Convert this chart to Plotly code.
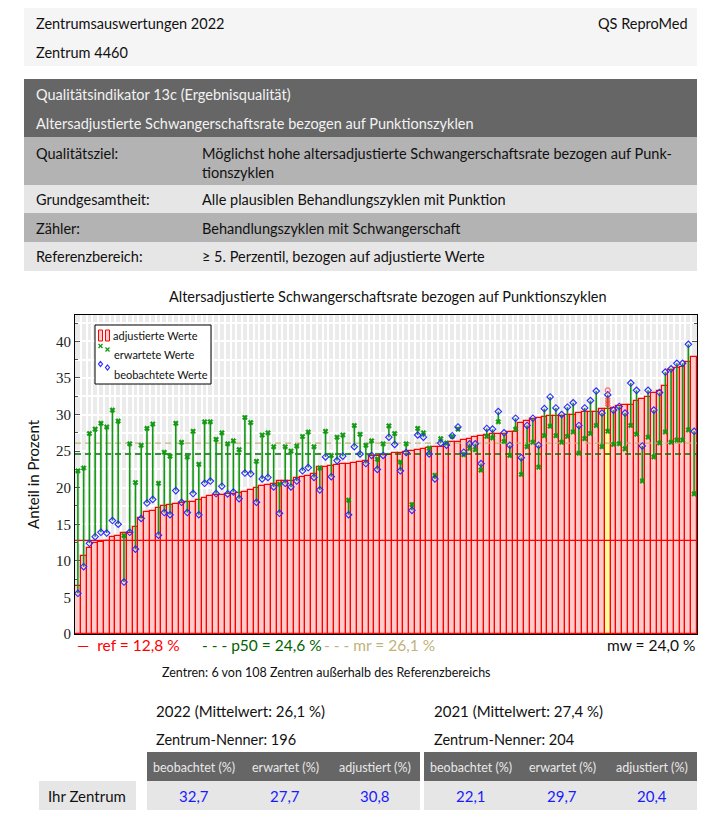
import plotly.graph_objects as go

# ---------------- data ----------------
adjustiert = [6.57, 10.67, 11.76, 12.4, 12.6, 12.75, 13.2, 13.45, 13.8, 13.86,
              14.6, 15.8, 16.7, 16.8, 17.2, 17.5, 17.6, 17.8, 17.9, 18.0,
              18.0, 18.3, 18.6, 18.9, 19.0, 19.0, 19.1, 19.2, 19.25, 19.4,
              19.7, 19.9, 20.25, 20.3, 20.5, 20.9, 20.9, 20.9, 21.3, 21.5,
              21.6, 21.9, 22.85, 22.85, 23.0, 23.1, 23.2, 23.2, 23.35, 23.5,
              23.6, 24.3, 24.35, 24.5, 24.5, 24.7, 24.8, 24.85, 25.0, 25.2,
              25.35, 25.4, 25.5, 25.5, 25.85, 26.2, 26.2, 26.45, 26.7, 26.9,
              27.0, 27.2, 27.3, 27.35, 27.35, 27.6, 27.6, 28.8, 29.1, 29.4,
              29.5, 29.6, 29.8, 29.8, 29.85, 29.9, 29.9, 30.2, 30.3, 30.3,
              30.3, 30.7, 30.8, 30.9, 31.2, 31.3, 31.3, 31.9, 32.1, 32.4,
              32.9, 33.15, 33.9, 36.1, 36.3, 36.5, 37.2, 37.85]
erwartet = [22.3, 22.7, 27.4, 28.0, 28.8, 28.3, 30.6, 29.1, 13.45, 26.0,
            20.7, 25.8, 28.1, 28.7, 20.6, 24.85, 24.3, 28.8, 26.2, 24.2,
            27.7, 23.2, 29.0, 29.0, 26.6, 27.5, 26.0, 26.4, 25.2, 29.6,
            28.9, 23.6, 27.2, 27.5, 25.6, 20.5, 25.6, 25.0, 25.7, 27.0,
            27.6, 25.6, 22.7, 27.7, 24.4, 26.9, 27.2, 18.3, 28.5, 27.3,
            25.8, 26.4, 23.9, 26.0, 28.45, 27.4, 23.5, 26.0, 17.7, 28.1,
            27.5, 25.4, 21.7, 26.7, 26.1, 27.0, 28.0, 24.5, 25.35, 25.2,
            22.4, 27.0, 26.8, 29.0, 26.3, 24.4, 28.0, 21.8, 25.6, 26.2,
            22.8, 27.1, 28.4, 27.1, 26.2, 27.0, 27.6, 24.7, 26.7, 27.4,
            28.5, 25.6, 27.7, 25.9, 26.0, 25.3, 28.5, 27.3, 20.9, 26.9,
            24.2, 26.1, 27.6, 26.2, 26.5, 26.5, 27.9, 19.15]
beobachtet = [5.56, 9.2, 12.4, 13.3, 13.9, 13.8, 15.5, 15.0, 7.1, 13.9,
              11.6, 15.8, 17.9, 18.4, 13.5, 16.6, 16.3, 19.6, 18.0, 16.6,
              19.2, 16.3, 20.6, 20.9, 19.2, 20.2, 19.15, 19.4, 18.5, 22.0,
              21.9, 18.0, 21.2, 21.4, 20.1, 16.5, 20.6, 20.1, 20.9, 22.3,
              22.75, 21.4, 19.7, 24.2, 21.5, 23.7, 24.3, 16.3, 25.6, 24.6,
              23.3, 24.4, 22.5, 24.4, 26.9, 25.9, 22.3, 24.8, 16.9, 27.2,
              26.9, 24.6, 21.2, 26.1, 25.8, 27.1, 28.3, 24.85, 26.0, 26.0,
              23.3, 28.1, 28.0, 30.4, 27.5, 25.8, 29.5, 24.1, 28.5, 29.5,
              25.8, 30.8, 32.4, 30.9, 30.0, 31.0, 31.6, 28.5, 30.9, 31.9,
              33.2, 30.2, 32.7, 30.6, 31.1, 30.2, 34.3, 33.3, 25.7, 33.3,
              30.6, 33.0, 35.8, 36.25, 37.0, 37.0, 39.6, 27.7]
eigenes_zentrum = 92           # position of "Ihr Zentrum" among the 108 centres
eigene_marken = [33.3, 32.0, 31.4]   # red markers drawn at own centre

ref_wert = 12.8
p50_wert = 24.6
mr_wert = 26.1
mw_wert = 24.0
n_zentren = 108
n_ausserhalb = 6

y_ticks = [0, 5, 10, 15, 20, 25, 30, 35, 40]

tab_kopf = ["beobachtet (%)", "erwartet (%)", "adjustiert (%)"]
werte_2022 = ["32,7", "27,7", "30,8"]
werte_2021 = ["22,1", "29,7", "20,4"]
mittel_2022 = "26,1"
mittel_2021 = "27,4"
nenner_2022 = 196
nenner_2021 = 204

# ---------------- geometry helpers (window pixel -> paper) ----------------
OFF = 8                      # default body margin of the page
W, H = 721 - OFF, 818 - OFF
L, R, T, B = 75, 697, 315, 634
def px(X):
    return (X - L) / (R - L)
def py(Y):
    return (B - Y) / (B - T)

FONT = "Lato"
def fmt(v):
    return f"{v:.1f}".replace(".", ",")

x = list(range(len(adjustiert)))
fill_colors = ["#ffff99" if i == eigenes_zentrum else "#ffcccc" for i in x]

fig = go.Figure()

fig.add_trace(go.Bar(
    x=x, y=adjustiert, width=1.0, name="adjustierte Werte",
    marker=dict(color=fill_colors, line=dict(color="#ff0000", width=1.2)),
    hoverinfo="y",
))

xr = [-0.5, len(adjustiert) - 0.5]
fig.add_trace(go.Scatter(x=xr, y=[ref_wert, ref_wert], mode="lines",
                         line=dict(color="#ff0000", width=1.3), hoverinfo="skip"))
fig.add_trace(go.Scatter(x=xr, y=[p50_wert, p50_wert], mode="lines",
                         line=dict(color="#007000", width=1.4, dash="6px,4px"), hoverinfo="skip"))
fig.add_trace(go.Scatter(x=xr, y=[mr_wert, mr_wert], mode="lines",
                         line=dict(color="#c2b27a", width=1.2, dash="6px,4px"), hoverinfo="skip"))

# segments expected -> observed
seg_x, seg_y = [], []
for i, (e, o) in enumerate(zip(erwartet, beobachtet)):
    seg_x += [i, i, None]
    seg_y += [e, o, None]
fig.add_trace(go.Scatter(x=seg_x, y=seg_y, mode="lines",
                         line=dict(color="#119911", width=1.6), hoverinfo="skip"))

fig.add_trace(go.Scatter(x=x, y=erwartet, mode="markers", name="erwartete Werte",
                         marker=dict(symbol="x", size=4.5, color="#119911",
                                     line=dict(width=0.6, color="#119911"))))
fig.add_trace(go.Scatter(x=x, y=beobachtet, mode="markers", name="beobachtete Werte",
                         marker=dict(symbol="diamond-open", size=5, color="#2b2bff",
                                     line=dict(width=1.1, color="#2b2bff"))))
fig.add_trace(go.Scatter(x=[eigenes_zentrum] * len(eigene_marken), y=eigene_marken, mode="markers",
                         marker=dict(symbol=["circle-open", "x", "x"], size=[5, 4, 4], color="#ff3333",
                                     line=dict(width=1.2, color="#ff3333")),
                         hoverinfo="skip"))

# ---------------- shapes (page layout) ----------------
shapes = []
def rect(x0, y0, x1, y1, color, line=None, layer="below"):
    shapes.append(dict(type="rect", xref="paper", yref="paper",
                       x0=px(x0), x1=px(x1), y0=py(y1), y1=py(y0),
                       fillcolor=color, line=line or dict(width=0), layer=layer))

rect(24, 8, 697, 66, "#f5f5f5")
rect(24, 79, 697, 137, "#666666")
rect(24, 137, 697, 185, "#b3b3b3")
rect(24, 185, 697, 213, "#e6e6e6")
rect(24, 213, 697, 242, "#b3b3b3")
rect(24, 242, 697, 271, "#e6e6e6")
rect(147, 752, 420, 781, "#666666")
rect(424, 752, 697, 781, "#666666")
rect(147, 781, 420, 810, "#e6e6e6")
rect(424, 781, 697, 810, "#e6e6e6")
rect(39, 781, 136, 810, "#e6e6e6")

# custom legend box (drawn above traces)
rect(95, 325, 211, 384, "white", line=dict(color="black", width=1), layer="above")
for xa, xb in [(98.5, 102.5), (105.5, 109.5)]:
    rect(xa, 330, xb, 341, "#ffcccc", line=dict(color="#ff0000", width=1), layer="above")
def xmark(cx, cy, s=2):
    for dx in (s, -s):
        shapes.append(dict(type="line", xref="paper", yref="paper",
                           x0=px(cx - s), x1=px(cx + s), y0=py(cy - dx), y1=py(cy + dx),
                           line=dict(color="#119911", width=1.3), layer="above"))
def diamond(cx, cy, s=2.5):
    path = (f"M {px(cx)} {py(cy - s)} L {px(cx + s * 0.8)} {py(cy)} "
            f"L {px(cx)} {py(cy + s)} L {px(cx - s * 0.8)} {py(cy)} Z")
    shapes.append(dict(type="path", xref="paper", yref="paper", path=path,
                       line=dict(color="#2b2bff", width=1.2), layer="above"))
xmark(100.5, 346)
xmark(107.5, 349.5)
diamond(100.5, 364)
diamond(107.5, 367.5)

annotations = []
def text(X, Y, s, size=14.5, color="#111111", anchor="left", family=FONT):
    annotations.append(dict(xref="paper", yref="paper", x=px(X), y=py(Y), text=s,
                            showarrow=False, xanchor=anchor, yanchor="middle",
                            font=dict(family=family, size=size, color=color)))

text(111, 335.5, "adjustierte Werte", size=11)
text(112, 354.5, "erwartete Werte", size=11)
text(112, 374, "beobachtete Werte", size=11)

text(34, 23, "Zentrumsauswertungen 2022")
text(690, 23, "QS ReproMed", anchor="right")
text(34, 52, "Zentrum 4460")
text(34, 95, "Qualitätsindikator 13c (Ergebnisqualität)", color="#f2f2f2")
text(34, 123, "Altersadjustierte Schwangerschaftsrate bezogen auf Punktionszyklen", color="#f2f2f2")
text(34, 153, "Qualitätsziel:")
text(200, 153, "Möglichst hohe altersadjustierte Schwangerschaftsrate bezogen auf Punk-")
text(200, 172, "tionszyklen")
text(34, 199, "Grundgesamtheit:")
text(200, 199, "Alle plausiblen Behandlungszyklen mit Punktion")
text(34, 228, "Zähler:")
text(200, 228, "Behandlungszyklen mit Schwangerschaft")
text(34, 257, "Referenzbereich:")
text(200, 257, "≥ 5. Perzentil, bezogen auf adjustierte Werte")
text(388, 296, "Altersadjustierte Schwangerschaftsrate bezogen auf Punktionszyklen",
     size=14.5, anchor="center")

text(75, 645, f"—  ref = {fmt(ref_wert)} %", size=15.5, color="#ff0000")
text(200, 645, f"- - - p50 = {fmt(p50_wert)} %", size=15.5, color="#006400")
text(322, 645, f"- - - mr = {fmt(mr_wert)} %", size=15.5, color="#c2b27a")
text(697, 645, f"mw = {fmt(mw_wert)} %", size=15.5, anchor="right")
text(160, 672, f"Zentren: {n_ausserhalb} von {n_zentren} Zentren außerhalb des Referenzbereichs", size=12.5)

text(154, 711, f"2022 (Mittelwert: {mittel_2022} %)", size=15)
text(432, 711, f"2021 (Mittelwert: {mittel_2021} %)", size=15)
text(154, 739, f"Zentrum-Nenner: {nenner_2022}", size=14.5)
text(432, 739, f"Zentrum-Nenner: {nenner_2021}", size=14.5)

col_l = [194, 285, 375]
col_r = [471, 562, 652]
for cx, h in zip(col_l, tab_kopf):
    text(cx, 767, h, size=12.5, color="#e8e8e8", anchor="center")
for cx, h in zip(col_r, tab_kopf):
    text(cx, 767, h, size=12.5, color="#e8e8e8", anchor="center")
for cx, v in zip(col_l, werte_2022):
    text(cx, 796, v, size=15, color="#1a1aff", anchor="center")
for cx, v in zip(col_r, werte_2021):
    text(cx, 796, v, size=15, color="#1a1aff", anchor="center")
text(87, 796, "Ihr Zentrum", size=15, anchor="center")

fig.update_layout(
    width=W, height=H,
    margin=dict(l=L - OFF, r=721 - R, t=T - OFF, b=818 - B, pad=0),
    paper_bgcolor="white", plot_bgcolor="#ebebeb",
    bargap=0, barmode="overlay",
    shapes=shapes, annotations=annotations,
    showlegend=False,
    xaxis=dict(range=xr, showticklabels=False, ticks="",
               showgrid=True, gridcolor="white", gridwidth=1.5,
               tick0=0.5, dtick=1, zeroline=False,
               showline=True, mirror=True, linecolor="black", linewidth=1.2,
               layer="below traces", fixedrange=True),
    yaxis=dict(range=[0, 43.6], tickvals=y_ticks, ticktext=[str(v) for v in y_ticks],
               ticks="inside", ticklen=5, tickcolor="#555555",
               showgrid=True, gridcolor="white", gridwidth=1.5, zeroline=False,
               minor=dict(dtick=2.5, tick0=0, showgrid=True, gridcolor="white", gridwidth=1.5,
                          ticks="inside", ticklen=3, tickcolor="#555555"),
               showline=True, mirror="ticks", linecolor="black", linewidth=1.2,
               tickfont=dict(family="Liberation Serif", size=15, color="#222"),
               title=dict(text="Anteil in Prozent", font=dict(family=FONT, size=15, color="#111"),
                          standoff=12),
               layer="below traces", fixedrange=True),
)

fig.write_html("out.html")
